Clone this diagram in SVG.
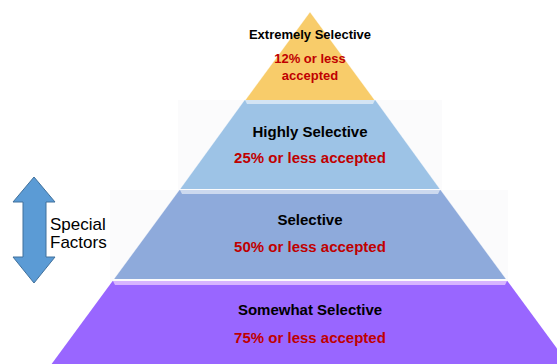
<svg xmlns="http://www.w3.org/2000/svg" width="557" height="364" viewBox="0 0 557 364">
  <style>
    .t { font-family: "Liberation Sans", Arial, sans-serif; font-weight: bold; text-anchor: middle; }
    .k { fill: #000000; }
    .r { fill: #C00000; }
    .bevel { fill: #FFFFFF; opacity: 0.55; }
    .edge { fill: none; stroke: #FFFFFF; stroke-opacity: 0.35; stroke-width: 1; }
    .lbl { font-family: "Liberation Sans", Arial, sans-serif; font-size: 17px; fill: #000000; }
  </style>
  <rect x="0" y="0" width="557" height="364" fill="#FFFFFF"/>
  <g id="background" fill="#FBFBFC">
    <rect x="178" y="100" width="264" height="90"/>
    <rect x="110" y="190" width="398" height="92"/>
  </g>

  <g id="tier-extremely-selective">
    <polygon points="310,12 245.4,100 374.6,100" fill="#F8CC6A"/>
    <polyline class="edge" points="245.4,100 310,12 374.6,100"/>
    <text class="t k" x="310" y="39" font-size="13">Extremely Selective</text>
    <text class="t r" x="310" y="63" font-size="13">12% or less</text>
    <text class="t r" x="310" y="80" font-size="13">accepted</text>
  </g>

  <g id="tier-highly-selective">
    <polygon points="244.6,100 375.4,100 439.9,189 180.1,189" fill="#9DC3E6"/>
    <polygon class="bevel" points="245,100 375,100 373,104 247,104"/>
    <polyline class="edge" points="244.6,100 180.1,189"/>
    <polyline class="edge" points="375.4,100 439.9,189"/>
    <text class="t k" x="310" y="137" font-size="15">Highly Selective</text>
    <text class="t r" x="310" y="163" font-size="15">25% or less accepted</text>
  </g>

  <g id="tier-selective">
    <polygon points="179.3,190 440.7,190 506,279 114,279" fill="#8EAADB"/>
    <polygon class="bevel" points="180,190 440,190 438,194 182,194"/>
    <polyline class="edge" points="179.3,190 114,279"/>
    <polyline class="edge" points="440.7,190 506,279"/>
    <text class="t k" x="310" y="225" font-size="15">Selective</text>
    <text class="t r" x="310" y="252" font-size="15">50% or less accepted</text>
  </g>

  <g id="tier-somewhat-selective">
    <polygon points="112.6,281 507.4,281 572.8,370 47.2,370" fill="#9966FF"/>
    <polygon points="113,281 507,281 505,285 115,285" fill="#E6C8FF" opacity="0.8"/>
    <text class="t k" x="310" y="315" font-size="15">Somewhat Selective</text>
    <text class="t r" x="310" y="343" font-size="15">75% or less accepted</text>
  </g>

  <g id="special-factors">
    <polygon points="34,177 55,202 46,202 46,257 55,257 34,283 13,257 23,257 23,202 13,202" fill="#5B9BD5" stroke="#41719C" stroke-width="1"/>
    <text class="lbl" x="50" y="230">Special</text>
    <text class="lbl" x="50" y="248">Factors</text>
  </g>
</svg>
